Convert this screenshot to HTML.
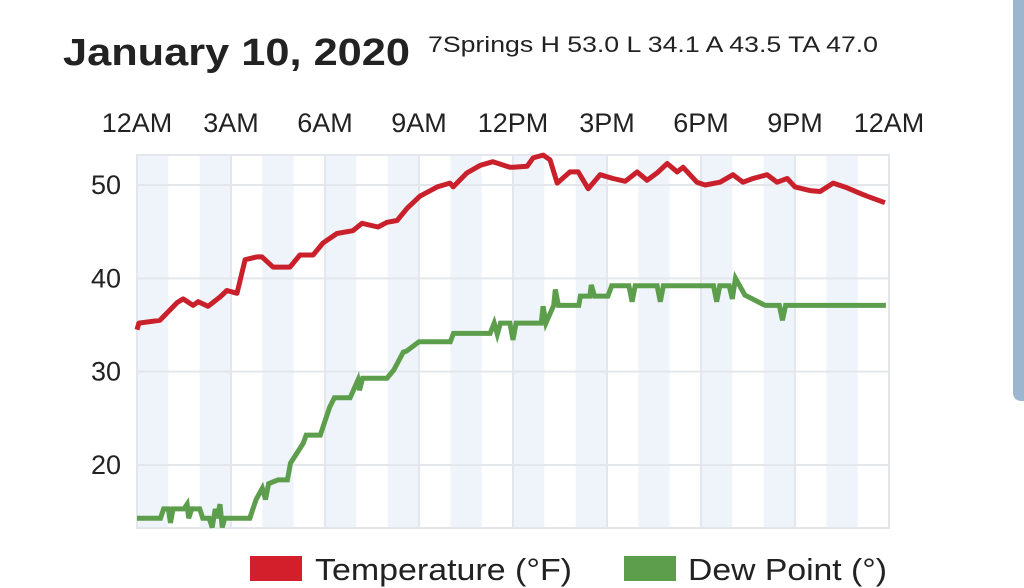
<!DOCTYPE html>
<html><head><meta charset="utf-8"><style>
html,body{margin:0;padding:0;background:#fff;width:1024px;height:588px;overflow:hidden}
svg text{font-family:"Liberation Sans",sans-serif;fill:#222}
</style></head><body>
<svg id="chart" width="1024" height="588" viewBox="0 0 1024 588" xmlns="http://www.w3.org/2000/svg">
<rect x="0" y="0" width="1024" height="588" fill="#fff"/>
<path d="M1013,0 H1024 V401 H1022 Q1013,401 1013,392 Z" fill="#9db6cf"/>
<text x="63" y="65" font-size="38" font-weight="bold" textLength="347" lengthAdjust="spacingAndGlyphs">January 10, 2020</text>
<text x="428" y="52" font-size="22" textLength="450" lengthAdjust="spacingAndGlyphs">7Springs H 53.0 L 34.1 A 43.5 TA 47.0</text>
<g id="bands"></g>
<g id="grid"></g>
<g id="xlabels"></g>
<g id="ylabels"></g>
<g id="series"></g>
<g>
<rect x="250" y="556" width="52" height="25" fill="#d21f2b"/>
<text x="315" y="580" font-size="31" textLength="257" lengthAdjust="spacingAndGlyphs">Temperature (°F)</text>
<rect x="624" y="556" width="52" height="25" fill="#5c9e4c"/>
<text x="688" y="580" font-size="31" textLength="199" lengthAdjust="spacingAndGlyphs">Dew Point (°)</text>
</g>
</svg>
<script>
const xTickLabels = ["12AM","3AM","6AM","9AM","12PM","3PM","6PM","9PM","12AM"];
const xTickHours = [0,3,6,9,12,15,18,21,24];
const yTicks = [20,30,40,50];
const tempHours = [0,0.06,0.73,1.28,1.47,1.79,1.95,2.27,2.65,2.87,3.19,3.45,3.83,3.99,4.34,4.88,5.2,5.62,5.94,6.38,6.89,7.18,7.69,7.98,8.3,8.62,9.03,9.58,9.99,10.09,10.53,10.95,11.36,11.9,12.0,12.45,12.64,12.96,13.18,13.41,13.82,14.08,14.4,14.78,15.19,15.58,15.96,16.28,16.6,16.92,17.24,17.43,17.87,18.13,18.61,19.02,19.34,19.66,20.11,20.43,20.75,21.0,21.48,21.8,22.22,22.66,23.08,23.3,23.87];
const tempValues = [34.5,35.2,35.5,37.4,37.8,37.1,37.5,37.0,38.0,38.7,38.4,42.0,42.3,42.3,41.2,41.2,42.5,42.5,43.8,44.8,45.1,45.9,45.5,46.0,46.2,47.5,48.8,49.8,50.2,49.8,51.3,52.1,52.5,51.9,51.9,52.0,52.9,53.2,52.7,50.2,51.4,51.4,49.6,51.1,50.7,50.4,51.4,50.5,51.3,52.3,51.4,51.9,50.3,50.0,50.3,51.1,50.3,50.7,51.1,50.3,50.7,49.8,49.4,49.3,50.2,49.7,49.1,48.8,48.1];
const dewHours = [0,0.75,0.85,1.0,1.07,1.15,1.5,1.6,1.65,1.75,2.0,2.1,2.3,2.4,2.5,2.55,2.65,2.72,2.8,3.6,3.8,4.0,4.1,4.2,4.5,4.8,4.9,5.3,5.4,5.85,6.15,6.3,6.8,7.05,7.1,7.2,7.98,8.2,8.5,8.6,9.0,10.0,10.1,11.27,11.4,11.5,11.6,11.9,12.0,12.1,12.9,12.96,13.05,13.3,13.35,13.45,14.1,14.15,14.45,14.5,14.6,15.03,15.15,15.7,15.8,15.9,16.6,16.7,16.8,18.4,18.5,18.6,18.9,19.0,19.1,19.4,20.05,20.5,20.6,20.7,23.9];
const dewValues = [14.3,14.3,15.3,15.3,13.8,15.3,15.3,15.8,14.3,15.3,15.3,14.3,14.3,13.3,15.3,14.3,15.8,13.3,14.3,14.3,16.3,17.5,16.3,18.0,18.4,18.4,20.2,22.3,23.2,23.2,26.2,27.2,27.2,29.1,28.0,29.3,29.3,30.2,32.1,32.2,33.2,33.2,34.1,34.1,35.2,34.0,35.2,35.2,33.4,35.2,35.2,37.0,35.2,37.1,38.8,37.1,37.1,38.1,38.1,39.3,38.1,38.1,39.2,39.2,37.5,39.2,39.2,37.5,39.2,39.2,37.5,39.2,39.2,37.8,40.0,38.2,37.1,37.1,35.5,37.1,37.1];
const bandHours = [0,2,4,6,8,10,12,14,16,18,20,22];

const NS = "http://www.w3.org/2000/svg";
const X0 = 137, X1 = 889, YT = 155, YB = 528;
function xScale(h){ return X0 + (X1 - X0) * h / 24; }
function yScale(v){ return 185 + (50 - v) * 9.333; }
function mk(tag, attrs, parent){ const e = document.createElementNS(NS, tag); for (const k in attrs) e.setAttribute(k, attrs[k]); parent.appendChild(e); return e; }

const bands = document.getElementById('bands');
bandHours.forEach(h => {
  const r = mk('rect', {x: xScale(h), y: YT, width: xScale(h+1)-xScale(h), height: YB-YT, fill: '#eef4fa'}, bands);
  
  
});
const grid = document.getElementById('grid');
const frame = mk('rect', {x: X0, y: YT, width: X1-X0, height: YB-YT, fill: 'none', stroke: '#e3e6ea', 'stroke-width': 2}, grid);


xTickHours.forEach(h => {
  const l = mk('line', {x1: xScale(h), x2: xScale(h), y1: YT, y2: YB, stroke: '#e3e6ea', 'stroke-width': 2}, grid);
  
  
});
yTicks.forEach(v => {
  const l = mk('line', {x1: X0, x2: X1, y1: yScale(v), y2: yScale(v), stroke: '#e3e6ea', 'stroke-width': 2}, grid);
  
  
});
const xl = document.getElementById('xlabels');
xTickLabels.forEach((t, i) => {
  const e = mk('text', {x: xScale(xTickHours[i]), y: 132, 'font-size': 27, 'text-anchor': 'middle'}, xl);
  e.textContent = t;
  
  
});
const yl = document.getElementById('ylabels');
yTicks.forEach(v => {
  const e = mk('text', {x: 121, y: yScale(v) + 9, 'font-size': 27, 'text-anchor': 'end'}, yl);
  e.textContent = v;
  
  
});
const series = document.getElementById('series');
function line(hours, vals){
  return hours.map((h, i) => (i ? 'L' : 'M') + xScale(h).toFixed(1) + ',' + yScale(vals[i]).toFixed(1)).join(' ');
}
const dp = mk('path', {d: line(dewHours, dewValues), fill: 'none', stroke: '#5c9e4c', 'stroke-width': 5, 'stroke-linejoin': 'miter'}, series);


const tp = mk('path', {d: line(tempHours, tempValues), fill: 'none', stroke: '#c9202b', 'stroke-width': 5, 'stroke-linejoin': 'round'}, series);


</script>
</body></html>
